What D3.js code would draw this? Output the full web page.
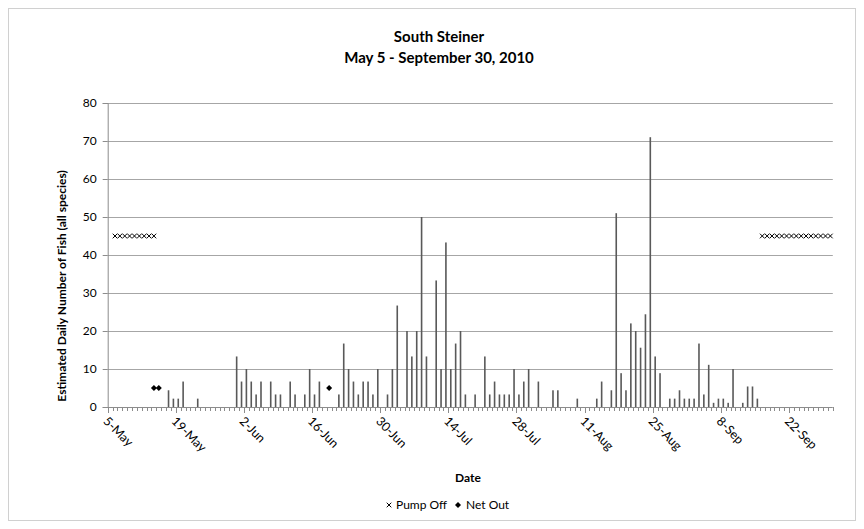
<!DOCTYPE html>
<html><head><meta charset="utf-8">
<script src="https://cdn.jsdelivr.net/npm/d3@7"></script>
<style>body{margin:0;background:#fff}svg{display:block}text{font-family:Lato,"Open Sans",sans-serif}</style>
</head><body><svg id="c" width="864" height="529"></svg>
<script>
const startDate = "2010-05-05";
const endDate = "2010-09-30";
// Estimated daily fish count, one value per day from May 5 to Sep 30
const fishValues = [
 0,0,0,0,0,0,0,0,0,0,
 0,0,4.4,2.2,2.2,6.7,0,0,2.2,0,
 0,0,0,0,0,0,13.3,6.7,10,6.7,
 3.3,6.7,0,6.7,3.3,3.3,0,6.7,3.3,0,
 3.3,10,3.3,6.7,0,0,0,3.3,16.7,10,
 6.7,3.3,6.7,6.7,3.3,10,0,3.3,10,26.7,
 0,20,13.3,20,50,13.3,0,33.3,10,43.3,
 10,16.7,20,3.3,0,3.3,0,13.3,3.3,6.7,
 3.3,3.3,3.3,10,3.3,6.7,10,0,6.7,0,
 0,4.4,4.4,0,0,0,2.2,0,0,0,
 2.2,6.7,0,4.4,51,8.9,4.4,22,20,15.6,
 24.4,71,13.3,8.9,0,2.2,2.2,4.4,2.2,2.2,
 2.2,16.7,3.3,11.1,1.1,2.2,2.2,1.1,10,0,
 1.1,5.4,5.4,2.2,0,0,0,0,0,0,
 0,0,0,0,0,0,0,0,0
];
const pumpOffDates = ["2010-05-06","2010-05-07","2010-05-08","2010-05-09","2010-05-10","2010-05-11","2010-05-12","2010-05-13","2010-05-14",
 "2010-09-16","2010-09-17","2010-09-18","2010-09-19","2010-09-20","2010-09-21","2010-09-22","2010-09-23","2010-09-24","2010-09-25","2010-09-26","2010-09-27","2010-09-28","2010-09-29","2010-09-30"];
const pumpOffValue = 45;
const netOutDates = ["2010-05-14","2010-05-15","2010-06-19"];
const netOutValue = 5;
const yTicks = [0,10,20,30,40,50,60,70,80];
const xLabelDates = ["2010-05-05","2010-05-19","2010-06-02","2010-06-16","2010-06-30","2010-07-14","2010-07-28","2010-08-11","2010-08-25","2010-09-08","2010-09-22"];

const parse = d3.timeParse("%Y-%m-%d");
const fmt = d3.timeFormat("%-d-%b");
const days = d3.timeDay.range(parse(startDate), d3.timeDay.offset(parse(endDate), 1));
const data = days.map((d, i) => ({date: d, v: fishValues[i]}));

const svg = d3.select("#c");
const L = 107.7, R = 832.8, T = 103, B = 407;
const x = d3.scaleTime().domain([parse(startDate), d3.timeDay.offset(parse(endDate), 1)]).range([L, R]);
const y = d3.scaleLinear().domain([0, 80]).range([B, T]);
const mid = d => d3.timeHour.offset(d, 12);

// outer frame
svg.append("rect").attr("x", 8.5).attr("y", 8.5).attr("width", 847).attr("height", 512)
  .attr("fill", "#fff").attr("stroke", "#d0d0d0");

// gridlines
svg.append("g").selectAll("line").data(yTicks.slice(1)).join("line")
  .attr("x1", L).attr("x2", R).attr("y1", d => Math.round(y(d)) + 0.5).attr("y2", d => Math.round(y(d)) + 0.5)
  .attr("stroke", "#a6a6a6").attr("stroke-width", 1);

// y axis
const ya = svg.append("g").attr("transform", `translate(${L},0)`)
  .call(d3.axisLeft(y).tickValues(yTicks).tickSize(5).tickPadding(6));
ya.select(".domain").attr("stroke", "#8c8c8c");
ya.selectAll(".tick line").attr("stroke", "#8c8c8c");
ya.selectAll("text").attr("font-size", 12).attr("fill", "#000");

// bars
svg.append("g").selectAll("rect").data(data.filter(d => d.v > 0)).join("rect")
  .attr("x", d => x(mid(d.date)) - 0.8).attr("width", 1.6)
  .attr("y", d => y(d.v)).attr("height", d => B - y(d.v))
  .attr("fill", "#595959");

// x axis: minor ticks daily, major ticks each 14 days
const xa = svg.append("g").attr("transform", `translate(0,${B})`);
xa.append("line").attr("x1", L).attr("x2", R).attr("y1", 0.5).attr("y2", 0.5).attr("stroke", "#8c8c8c");
const allTicks = d3.timeDay.range(parse(startDate), d3.timeDay.offset(parse(endDate), 2));
const majorSet = new Set(xLabelDates);
xa.selectAll("line.t").data(allTicks).join("line").attr("class", "t")
  .attr("x1", d => Math.round(x(d)) + 0.5).attr("x2", d => Math.round(x(d)) + 0.5)
  .attr("y1", 0).attr("y2", d => majorSet.has(d3.timeFormat("%Y-%m-%d")(d)) ? 6 : 4)
  .attr("stroke", "#8c8c8c");
xa.selectAll("text").data(xLabelDates.map(parse)).join("text")
  .attr("transform", d => `translate(${x(d) - 2},${12}) rotate(45)`)
  .attr("font-size", 12.5).attr("fill", "#000").attr("dy", "0.35em")
  .text(d => fmt(d));

// pump off markers (x)
const xs = 2.3;
svg.append("g").selectAll("path").data(pumpOffDates.map(parse)).join("path")
  .attr("d", d => { const cx = x(mid(d)), cy = y(pumpOffValue);
    return `M${cx-xs},${cy-xs}L${cx+xs},${cy+xs}M${cx-xs},${cy+xs}L${cx+xs},${cy-xs}`; })
  .attr("stroke", "#000").attr("stroke-width", 1).attr("fill", "none");

// net out markers (diamond)
svg.append("g").selectAll("path").data(netOutDates.map(parse)).join("path")
  .attr("d", d => { const cx = x(mid(d)), cy = y(netOutValue), s = 3;
    return `M${cx},${cy-s}L${cx+s},${cy}L${cx},${cy+s}L${cx-s},${cy}Z`; })
  .attr("fill", "#000");

// titles
svg.append("text").attr("x", 439).attr("y", 42).attr("text-anchor", "middle")
  .attr("font-size", 15).attr("font-weight", "bold").text("South Steiner");
svg.append("text").attr("x", 439).attr("y", 63).attr("text-anchor", "middle")
  .attr("font-size", 15).attr("font-weight", "bold").text("May 5 - September 30, 2010");
svg.append("text").attr("transform", "translate(66,286) rotate(-90)").attr("text-anchor", "middle")
  .attr("font-size", 12).attr("font-weight", "bold").text("Estimated Daily  Number of Fish (all species)");
svg.append("text").attr("x", 468).attr("y", 482).attr("text-anchor", "middle")
  .attr("font-size", 12).attr("font-weight", "bold").text("Date");

// legend
const lg = svg.append("g").attr("transform", "translate(389,505)");
lg.append("path").attr("d", `M${-xs},${-xs}L${xs},${xs}M${-xs},${xs}L${xs},${-xs}`).attr("stroke", "#000").attr("fill", "none");
lg.append("text").attr("x", 7).attr("y", 4).attr("font-size", 12).text("Pump Off");
lg.append("path").attr("d", "M69,-3L72,0L69,3L66,0Z").attr("fill", "#000");
lg.append("text").attr("x", 77).attr("y", 4).attr("font-size", 12).text("Net Out");
</script></body></html>
